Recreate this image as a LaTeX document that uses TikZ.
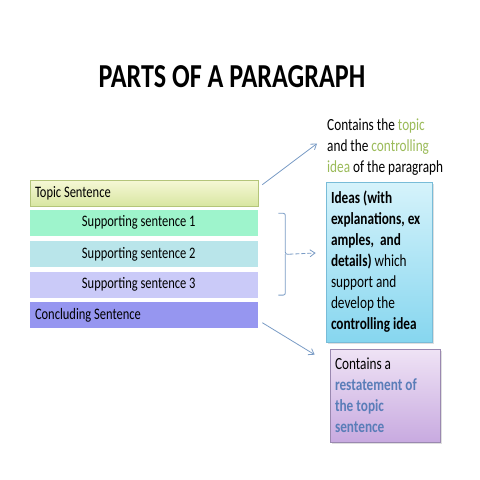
\documentclass[tikz,border=0pt]{standalone}
\usepackage{fontspec}
\setmainfont[FakeStretch=0.78]{Carlito}
\usetikzlibrary{arrows.meta, positioning, calc, shadows}
\definecolor{notegreen}{HTML}{9BBB59}
\definecolor{restateblue}{HTML}{5A7DB8}
\definecolor{linkblue}{HTML}{7A9CC6}
\definecolor{topictop}{HTML}{F6F8D6}
\definecolor{topicbot}{HTML}{D8E6A2}
\definecolor{topicline}{HTML}{B4C57A}
\definecolor{suppone}{HTML}{9EF4CC}
\definecolor{supptwo}{HTML}{B9E5EA}
\definecolor{suppthree}{HTML}{CACAF8}
\definecolor{conclfill}{HTML}{9696F0}
\definecolor{ideatop}{HTML}{D6F3FB}
\definecolor{ideabot}{HTML}{86D6EF}
\definecolor{idealine}{HTML}{78BCD8}
\definecolor{restatetop}{HTML}{EFE3F5}
\definecolor{restatebot}{HTML}{C8AAE0}
\definecolor{restateline}{HTML}{9A88B0}

\begin{document}
\begin{tikzpicture}[
  x=1pt, y=-1pt,
  sentbox/.style={
    rectangle, minimum height=26pt,
    text width=218pt, inner xsep=5pt, inner ysep=0pt,
    align=flush left, line width=0.6pt,
    font=\fontsize{16}{18}\selectfont
  },
  suppbox/.style={sentbox, execute at begin node={\hspace*{47pt}}},
  notebox/.style={
    rectangle, align=flush left,
    inner xsep=5pt, inner ysep=4pt, line width=0.7pt,
    font=\fontsize{17}{21}\selectfont,
    drop shadow={opacity=0.25, shadow xshift=1.5pt, shadow yshift=-1.5pt}
  },
  link/.style={-{Straight Barb[length=5pt, width=7pt]}, line width=0.8pt, color=linkblue},
  bracket/.style={line width=0.8pt, color=linkblue, rounded corners=2pt},
  node distance=4pt
]
\fill[white] (0,0) rectangle (480,480);
\useasboundingbox (0,0) rectangle (480,480);

% Title
\node[font=\fontsize{33.5}{40}\selectfont\bfseries] (title) at (232,77) {PARTS OF A PARAGRAPH};

% Sentence stack
\node[sentbox, top color=topictop, bottom color=topicbot, draw=topicline] (topic) at (144,193) {Topic Sentence};
\node[suppbox, fill=suppone, below=3pt of topic] (supp1) {Supporting sentence 1};
\node[suppbox, fill=supptwo, below=5pt of supp1] (supp2) {Supporting sentence 2};
\node[suppbox, fill=suppthree, below=of supp2] (supp3) {Supporting sentence 3};
\node[sentbox, fill=conclfill, below=of supp3] (concl) {Concluding Sentence};

% Notes on the right
\node[anchor=north west, align=left, inner xsep=5pt, inner ysep=0pt,
  font=\fontsize{17}{21}\selectfont] (topicnote) at (322,118)
  {Contains the \textcolor{notegreen}{topic}\\
   and the \textcolor{notegreen}{controlling}\\
   \textcolor{notegreen}{idea} of the paragraph};

\node[notebox, top color=ideatop, bottom color=ideabot, draw=idealine,
  text width=96pt, minimum height=160pt] (ideas) at (379,262)
  {\textbf{Ideas (with}\\
   \textbf{explanations, ex}\\
   \textbf{amples,~ and}\\
   \textbf{details)} which\\
   support and\\
   develop the\\
   \textbf{controlling idea}};

\node[notebox, top color=restatetop, bottom color=restatebot, draw=restateline,
  text width=100pt, minimum height=93pt] (restate) at (385,395.5)
  {Contains a\\
   \textcolor{restateblue}{\textbf{restatement of}}\\
   \textcolor{restateblue}{\textbf{the topic}}\\
   \textcolor{restateblue}{\textbf{sentence}}};

% Bracket round the supporting sentences
\coordinate (brtop) at ([shift={(20,4)}]supp1.north east);
\coordinate (brbot) at ([shift={(20,-3)}]supp3.south east);
\coordinate (brmid) at ($(brtop)!0.5!(brbot)+(7,0)$);
\coordinate (brtip) at ($(brtop)!0.5!(brbot)+(11,0)$);
\draw[bracket] (brtop) -- ++(7,0) -- (brmid) -- (brtip);
\draw[bracket] (brbot) -- ++(7,0) -- (brmid);

% Arrows
\draw[link] ([shift={(4,5)}]topic.north east) -- ([shift={(-5,-3)}]topicnote.west);
\draw[link, dash pattern=on 4pt off 2pt] (brtip) -- ([shift={(-10,-9)}]ideas.west);
\draw[link] ([shift={(4,-6)}]concl.south east) -- ([shift={(-15,6)}]restate.north west);

\end{tikzpicture}
\end{document}
